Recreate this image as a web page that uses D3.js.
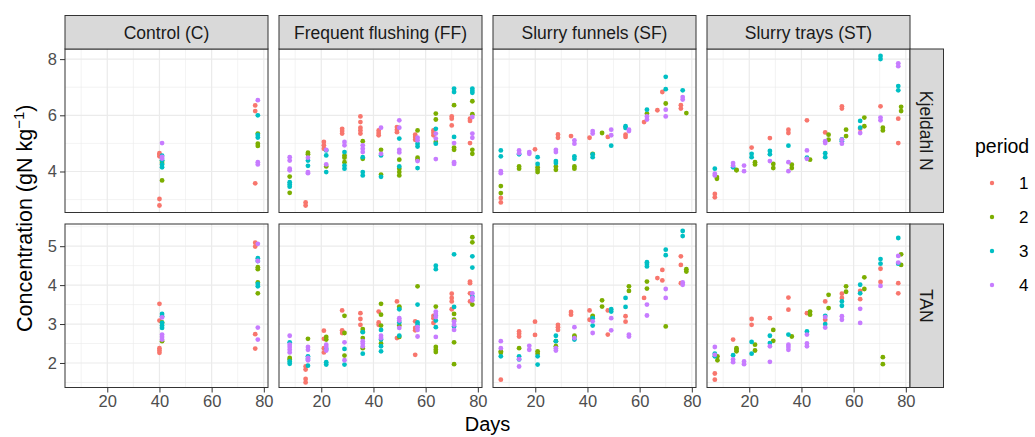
<!DOCTYPE html>
<html>
<head>
<meta charset="utf-8">
<script src="https://cdn.jsdelivr.net/npm/d3@7"></script>
<style>
  body { margin: 0; background: #fff; }
  text { font-family: "Liberation Sans", Arial, sans-serif; }
</style>
</head>
<body>
<div id="chart"></div>
<script>
// facet grid: treatments across, N fractions down, points coloured by period

var treatments = ["Control (C)", "Frequent flushing (FF)", "Slurry funnels (SF)", "Slurry trays (ST)"];
var measures = ["Kjeldahl N", "TAN"];
var periods = ["1", "2", "3", "4"];
var periodColors = ["#F8766D", "#7CAE00", "#00BFC4", "#C77CFF"];

var xTicks = [20, 40, 60, 80];
var xMinor = [10, 30, 50, 70];
var xDomain = [3.8, 81.6];
var kjeldahlTicks = [4, 6, 8];
var kjeldahlMinor = [3, 5, 7];
var kjeldahlDomain = [2.54, 8.36];
var tanTicks = [2, 3, 4, 5];
var tanMinor = [1.5, 2.5, 3.5, 4.5, 5.5];
var tanDomain = [1.37, 5.57];

// each row: [day, period, values...]
var controlKjeldahl = [
  [40, 1, 4.65, 4.60, 4.54, 3.02, 2.79],
  [41, 2, 4.37, 4.30, 3.68],
  [41, 3, 4.56, 4.40, 4.25, 4.15],
  [41, 4, 5.01, 4.52, 4.46],
  [76.7, 1, 6.35, 6.15, 3.58],
  [77.7, 2, 5.35, 4.99, 4.91],
  [77.7, 3, 6.00, 5.30, 5.21],
  [77.7, 4, 6.54, 4.33, 4.25]
];
var controlTAN = [
  [40, 1, 3.52, 3.09, 2.38, 2.32, 2.26],
  [41, 2, 3.04, 2.56],
  [41, 3, 3.26, 3.20, 3.03, 2.96, 2.90],
  [41, 4, 3.17, 2.73, 2.67, 2.60],
  [76.7, 1, 5.09, 4.99, 2.74, 2.37],
  [77.7, 2, 4.46, 4.41, 4.07, 3.79],
  [77.7, 3, 4.69, 4.62, 4.03, 3.97],
  [77.7, 4, 5.06, 4.62, 2.91, 2.60]
];
var ffKjeldahl = [
  [7.9, 4, 4.51, 4.39, 4.10, 4.04], [7.9, 2, 3.82, 3.24], [7.9, 3, 3.62, 3.54, 3.46],
  [14, 1, 2.90, 2.79], [14.9, 2, 4.67, 4.61], [14.9, 4, 4.49, 3.98, 3.94], [14.9, 3, 4.39, 4.20],
  [21, 1, 5.05, 4.93, 4.81], [21.9, 3, 4.75, 4.57, 3.98], [21.9, 4, 4.77, 4.25], [21.9, 2, 4.18],
  [28, 1, 5.52, 5.44, 5.35], [28.9, 4, 5.05, 4.93], [28.9, 3, 4.69, 4.21, 4.10], [28.9, 2, 4.57, 4.49, 4.33],
  [35, 1, 5.96, 5.76, 5.56, 5.46, 5.35], [35.9, 2, 5.08, 4.45], [35.9, 4, 4.93, 4.81, 4.69], [35.9, 3, 4.51, 3.98, 3.86],
  [42, 1, 5.46, 5.37, 5.29], [42.9, 4, 5.56, 4.63], [42.9, 2, 4.77, 3.89], [42.9, 3, 4.57, 3.81],
  [49, 1, 5.58, 5.49, 5.40], [49.9, 4, 5.82, 5.56, 4.77, 4.68], [49.9, 3, 5.17, 4.18], [49.9, 2, 4.42, 4.10, 3.98, 3.86],
  [56, 1, 5.31, 5.23, 5.13], [56.9, 2, 5.46, 4.49, 4.42], [56.9, 4, 5.20, 5.11, 4.37], [56.9, 3, 4.99, 4.89, 4.12],
  [63, 1, 5.46, 5.38, 5.29], [63.9, 2, 6.06, 5.85, 5.05], [63.9, 3, 5.52, 4.99], [63.9, 4, 5.35, 5.17, 4.44],
  [70, 1, 5.96, 5.88, 5.64], [70.9, 3, 6.95, 6.83, 5.23], [70.9, 2, 6.36, 4.85, 4.77], [70.9, 4, 5.01, 4.33, 4.27],
  [77, 1, 5.88, 5.80, 5.01], [77.9, 3, 6.95, 6.87, 6.80], [77.9, 2, 6.50, 6.04, 4.77, 4.63], [77.9, 4, 5.94, 5.35, 5.20]
];
var ffTAN = [
  [7.9, 4, 2.70, 2.47, 2.41, 2.34, 2.27], [7.9, 3, 2.53, 2.04, 1.98], [7.9, 2, 2.13, 2.09],
  [14, 1, 1.91, 1.83, 1.59, 1.50], [14.9, 2, 2.62], [14.9, 4, 2.41, 2.34, 2.13, 2.07], [14.9, 3, 2.17, 2.10, 1.93],
  [21, 1, 2.83, 2.62, 2.38, 2.27], [21.9, 2, 2.67, 2.60], [21.9, 4, 2.47, 2.41, 2.32], [21.9, 3, 2.36, 2.02, 1.96],
  [28, 1, 3.35, 2.84, 2.77], [28.9, 2, 3.21, 2.77, 2.19], [28.9, 4, 2.53, 2.07], [28.9, 3, 2.36, 1.96],
  [35, 1, 3.28, 3.13, 2.98], [35.9, 2, 2.87, 2.81, 2.64, 2.38], [35.9, 4, 2.56, 2.50, 2.43], [35.9, 3, 2.79, 2.24],
  [42, 1, 3.32, 3.04, 2.98], [42.9, 2, 3.52, 3.24, 2.96, 2.50], [42.9, 4, 2.70, 2.64], [42.9, 3, 2.85, 2.60, 2.43, 2.30],
  [49, 1, 3.58, 2.64], [49.9, 3, 3.38, 3.04, 2.70], [49.9, 4, 3.15, 3.09, 2.90], [49.9, 2, 3.45, 3.41, 2.96, 2.67],
  [56, 1, 3.07, 2.90, 2.84, 2.21], [56.9, 2, 3.97], [56.9, 3, 3.50, 3.04, 2.98], [56.9, 4, 2.92, 2.85, 2.68],
  [63, 1, 3.21, 3.15, 3.03], [63.9, 3, 4.50, 4.41, 3.21, 3.09, 2.92], [63.9, 2, 3.45, 2.41, 2.34, 2.28], [63.9, 4, 3.32, 3.26, 3.18, 2.67],
  [70, 1, 3.78, 3.67, 3.58, 3.38], [70.9, 3, 4.79, 3.44, 2.94], [70.9, 2, 3.26, 3.11, 2.53, 1.97], [70.9, 4, 3.07, 2.98, 2.85],
  [77, 1, 4.09, 4.05, 3.79, 3.58], [77.9, 2, 5.23, 5.10, 3.50], [77.9, 3, 4.74, 4.45, 3.71], [77.9, 4, 3.79, 3.67, 3.61]
];
var sfKjeldahl = [
  [6.8, 3, 4.75, 4.54], [6.8, 4, 4.01, 3.94], [6.8, 2, 3.48, 3.23], [6.8, 1, 3.06, 2.90],
  [13.8, 4, 4.75, 4.65], [13.8, 3, 4.61], [13.8, 2, 4.18, 4.10],
  [17.7, 4, 4.69, 4.63],
  [19.9, 1, 4.79], [20.9, 3, 4.51, 4.27], [20.9, 2, 4.15, 4.06, 3.98],
  [27.9, 4, 4.77, 4.69], [27.9, 3, 4.37, 4.30], [27.9, 2, 4.18, 4.06], [28.7, 1, 5.32, 5.20],
  [33.7, 1, 5.26], [35, 4, 5.11, 4.99], [35, 3, 4.54, 4.45], [35, 2, 4.18, 4.10],
  [40.8, 1, 5.20], [42, 4, 5.44, 5.35], [42, 3, 4.61, 4.51], [42, 2, 4.63],
  [45.6, 2, 5.37],
  [47.8, 1, 5.23], [49.1, 4, 5.49, 5.29], [49.1, 3, 4.92],
  [54.6, 1, 5.31, 5.23], [54.6, 3, 5.61, 5.55], [55.9, 4, 5.49, 5.44],
  [61.7, 1, 5.76], [62.8, 3, 6.20], [62.8, 2, 6.06], [62.8, 4, 5.96, 5.85],
  [66.8, 1, 6.18],
  [68.7, 1, 6.83], [70, 3, 7.37, 6.93], [70, 2, 6.42], [70, 4, 6.20, 5.96],
  [75.8, 1, 6.36, 6.24], [76.5, 3, 6.89], [76.5, 4, 6.65, 6.56], [77.9, 2, 6.08]
];
var sfTAN = [
  [6.8, 4, 2.56, 2.38], [6.8, 2, 2.30, 2.26], [6.8, 3, 2.17], [6.8, 1, 1.57],
  [13.8, 1, 2.81, 2.75, 2.68], [13.8, 2, 2.38], [13.8, 3, 2.17, 2.09], [13.8, 4, 2.10, 1.91],
  [17.7, 4, 2.44, 2.34],
  [19.9, 1, 3.06, 2.72], [20.9, 2, 2.30, 2.24], [20.9, 3, 2.17, 1.96],
  [27.9, 3, 2.70, 2.56], [27.9, 2, 2.56, 2.43], [27.9, 4, 2.38, 2.32], [28.7, 1, 2.98, 2.92, 2.85],
  [33.7, 1, 3.31, 3.24], [35, 4, 2.92, 2.64], [35, 2, 2.70, 2.67], [35, 3, 2.60],
  [40.8, 1, 3.35, 3.11], [42, 2, 3.21, 3.18], [42, 3, 3.15, 2.96], [42, 4, 3.07, 2.77],
  [45.6, 2, 3.61, 3.45],
  [47.8, 1, 3.35, 2.73], [49.1, 3, 3.38, 3.32], [49.1, 4, 3.15, 2.84],
  [54.6, 3, 3.67, 3.44], [54.6, 1, 3.20, 3.06], [55.9, 2, 3.97, 3.85], [55.9, 4, 2.73, 2.68],
  [61.7, 1, 3.67], [62.8, 3, 4.59, 4.54, 4.48], [62.8, 2, 4.09, 3.91], [62.8, 4, 3.50, 3.22],
  [66.8, 1, 4.18],
  [68.7, 1, 4.39, 4.12], [70, 3, 4.91, 4.77], [70, 4, 3.90, 3.67], [70, 2, 2.94],
  [75.8, 1, 4.74, 4.52, 4.05], [76.5, 3, 5.39, 5.26], [76.5, 4, 4.07, 4.01], [77.9, 2, 4.41, 4.35]
];
var stKjeldahl = [
  [6.8, 3, 4.10], [6.8, 4, 3.92, 3.86], [6.8, 1, 3.20, 3.08], [7.6, 2, 3.80, 3.74],
  [13.8, 4, 4.30, 4.21], [13.8, 3, 4.15], [15.1, 2, 4.06, 4.04],
  [18, 4, 4.21, 4.01],
  [20.9, 1, 4.85], [20.9, 3, 4.63, 4.51], [22.2, 2, 4.33, 4.25],
  [27.9, 1, 5.19], [27.9, 3, 4.73, 4.61], [27.9, 4, 4.37], [29.2, 2, 4.27, 4.12],
  [35, 1, 5.49, 5.37], [35, 3, 4.92], [35, 4, 4.33, 4.01], [36.3, 2, 4.24, 4.12],
  [42.1, 1, 5.82], [42.1, 4, 4.75, 4.45], [42.1, 3, 4.49], [43.3, 2, 4.42],
  [49.1, 1, 5.39], [49.1, 4, 5.08, 5.01], [49.1, 3, 4.65, 4.51], [50.4, 2, 5.31, 5.13],
  [55.5, 1, 6.32, 6.24], [55.5, 3, 5.14, 5.08], [55.5, 4, 5.13, 4.99], [57.1, 2, 5.49, 5.26],
  [62.5, 1, 5.52], [62.5, 3, 5.80, 5.56], [62.5, 4, 5.37], [64.1, 2, 5.92, 5.61],
  [70.3, 3, 8.11, 8.00], [70.3, 1, 6.32], [70.3, 4, 5.92, 5.82], [71.2, 2, 5.56, 5.46],
  [77.1, 4, 7.85, 7.75], [77.1, 3, 7.04, 6.89], [77.1, 1, 5.88, 5.01], [78.2, 2, 6.30, 6.15]
];
var stTAN = [
  [6.8, 4, 2.41, 2.21], [6.8, 3, 2.24, 2.17], [6.8, 1, 1.73, 1.57], [7.8, 2, 2.17, 2.07],
  [13.8, 1, 2.60], [13.8, 3, 2.20], [13.8, 4, 2.09, 2.02], [15.1, 2, 2.38, 2.34, 2.30],
  [18, 4, 2.04, 1.97],
  [20.9, 1, 3.13, 2.98], [20.9, 3, 2.54, 2.24], [22.2, 2, 2.47, 2.32],
  [27.9, 1, 3.15], [27.9, 3, 2.70, 2.51], [27.9, 4, 2.43, 2.03], [29.2, 2, 2.85, 2.57],
  [35, 1, 3.68, 3.37], [35, 3, 2.73], [35, 4, 2.47, 2.41, 2.34], [36.3, 2, 2.68],
  [42.1, 1, 3.28], [42.1, 3, 2.81], [42.1, 4, 2.73, 2.50, 2.43], [43.3, 2, 3.32, 3.24],
  [49.1, 1, 3.58, 3.11], [49.1, 3, 3.21, 3.00], [49.1, 4, 3.18, 2.91], [50.4, 2, 3.75, 3.41],
  [55.5, 1, 3.78, 3.67], [55.5, 3, 3.58, 3.47], [55.5, 4, 3.20, 3.11], [57.1, 2, 3.97, 3.83],
  [62.5, 1, 3.85, 3.64], [62.5, 3, 4.01, 3.79], [62.5, 4, 3.39, 3.03], [64.1, 2, 4.20, 3.90],
  [70.3, 3, 4.67, 4.55], [70.3, 1, 4.42, 4.08], [70.3, 4, 3.98], [71.2, 2, 2.15, 1.97],
  [77.1, 3, 5.21, 4.55], [77.1, 4, 4.75, 4.58], [77.1, 1, 4.05, 3.79], [78.2, 2, 4.79, 4.52]
];

var panelData = [
  [controlKjeldahl, ffKjeldahl, sfKjeldahl, stKjeldahl],
  [controlTAN, ffTAN, sfTAN, stTAN]
];

function flatten(rows) {
  var out = [];
  rows.forEach(function(r) {
    for (var i = 2; i < r.length; i++) out.push({day: r[0], period: r[1], value: r[i]});
  });
  // draw period 1 first, like ggplot's data order
  out.sort(function(a, b) { return a.period - b.period; });
  return out;
}

var W = 1035, H = 437;
var panelLeft = 65, panelW = 203, gapX = 11;
var rowTop = [49, 224], panelH = 163.5;
var stripH = 33.5;
var tickCol = "#333333", tickText = "#4D4D4D";

var svg = d3.select("#chart").append("svg")
  .attr("width", W).attr("height", H);

var x = d3.scaleLinear().domain(xDomain);
var yScales = [
  d3.scaleLinear().domain(kjeldahlDomain).range([rowTop[0] + panelH, rowTop[0]]),
  d3.scaleLinear().domain(tanDomain).range([rowTop[1] + panelH, rowTop[1]])
];
var yTicks = [kjeldahlTicks, tanTicks];
var yMinor = [kjeldahlMinor, tanMinor];
var color = d3.scaleOrdinal().domain(d3.range(1, 5)).range(periodColors);

for (var r = 0; r < 2; r++) {
  for (var c = 0; c < 4; c++) {
    var x0 = panelLeft + c * (panelW + gapX);
    var y0 = rowTop[r];
    var xs = x.copy().range([x0, x0 + panelW]);
    var ys = yScales[r];
    var g = svg.append("g");

    g.append("rect").attr("x", x0).attr("y", y0)
      .attr("width", panelW).attr("height", panelH).attr("fill", "#fff");

    // minor grid
    g.selectAll(".vmin").data(xMinor).enter().append("line")
      .attr("x1", function(d) { return xs(d); }).attr("x2", function(d) { return xs(d); })
      .attr("y1", y0).attr("y2", y0 + panelH)
      .attr("stroke", "#EBEBEB").attr("stroke-width", 0.6);
    g.selectAll(".hmin").data(yMinor[r].filter(function(d) { return d > ys.domain()[0] && d < ys.domain()[1]; }))
      .enter().append("line")
      .attr("x1", x0).attr("x2", x0 + panelW)
      .attr("y1", function(d) { return ys(d); }).attr("y2", function(d) { return ys(d); })
      .attr("stroke", "#EBEBEB").attr("stroke-width", 0.6);
    // major grid
    g.selectAll(".vmaj").data(xTicks).enter().append("line")
      .attr("x1", function(d) { return xs(d); }).attr("x2", function(d) { return xs(d); })
      .attr("y1", y0).attr("y2", y0 + panelH)
      .attr("stroke", "#EBEBEB").attr("stroke-width", 1.2);
    g.selectAll(".hmaj").data(yTicks[r]).enter().append("line")
      .attr("x1", x0).attr("x2", x0 + panelW)
      .attr("y1", function(d) { return ys(d); }).attr("y2", function(d) { return ys(d); })
      .attr("stroke", "#EBEBEB").attr("stroke-width", 1.2);

    // points
    g.selectAll("circle").data(flatten(panelData[r][c])).enter().append("circle")
      .attr("cx", function(d) { return xs(d.day); })
      .attr("cy", function(d) { return ys(d.value); })
      .attr("r", 2.4)
      .attr("fill", function(d) { return color(d.period); });

    g.append("rect").attr("x", x0).attr("y", y0)
      .attr("width", panelW).attr("height", panelH)
      .attr("fill", "none").attr("stroke", tickCol).attr("stroke-width", 1);

    // left axis
    if (c == 0) {
      var ya = svg.append("g").attr("transform", "translate(" + x0 + ",0)")
        .call(d3.axisLeft(ys).tickValues(yTicks[r]).tickSize(5).tickPadding(3).tickFormat(d3.format("d")));
      ya.select(".domain").remove();
      ya.selectAll("line").attr("stroke", tickCol);
      ya.selectAll("text").attr("fill", tickText).style("font-size", "16.5px")
        .style("font-family", "'Liberation Sans', Arial, sans-serif");
    }
    // bottom axis
    if (r == 1) {
      var xa = svg.append("g").attr("transform", "translate(0," + (y0 + panelH) + ")")
        .call(d3.axisBottom(xs).tickValues(xTicks).tickSize(5).tickPadding(3));
      xa.select(".domain").remove();
      xa.selectAll("line").attr("stroke", tickCol);
      xa.selectAll("text").attr("fill", tickText).style("font-size", "16.5px")
        .style("font-family", "'Liberation Sans', Arial, sans-serif");
    }
    // top strips
    if (r == 0) {
      svg.append("rect").attr("x", x0).attr("y", y0 - stripH)
        .attr("width", panelW).attr("height", stripH)
        .attr("fill", "#D9D9D9").attr("stroke", tickCol).attr("stroke-width", 1);
      svg.append("text").attr("x", x0 + panelW / 2).attr("y", y0 - stripH / 2)
        .attr("dy", "0.36em").attr("text-anchor", "middle")
        .attr("fill", "#1A1A1A").style("font-size", "17.5px")
        .text(treatments[c]);
    }
  }
  // right strips
  var sx = panelLeft + 4 * panelW + 3 * gapX;
  svg.append("rect").attr("x", sx).attr("y", rowTop[r])
    .attr("width", stripH).attr("height", panelH)
    .attr("fill", "#D9D9D9").attr("stroke", tickCol).attr("stroke-width", 1);
  svg.append("text")
    .attr("transform", "translate(" + (sx + stripH / 2) + "," + (rowTop[r] + panelH / 2) + ") rotate(90)")
    .attr("dy", "0.36em").attr("text-anchor", "middle")
    .attr("fill", "#1A1A1A").style("font-size", "17.5px")
    .text(measures[r]);
}

// axis titles
svg.append("text")
  .attr("x", panelLeft + (4 * panelW + 3 * gapX) / 2).attr("y", 431)
  .attr("text-anchor", "middle").attr("fill", "#000").style("font-size", "20px")
  .text("Days");

var yt = svg.append("text")
  .attr("transform", "translate(32," + ((rowTop[0] + rowTop[1] + panelH) / 2) + ") rotate(-90)")
  .attr("text-anchor", "middle").attr("fill", "#000").style("font-size", "21.5px");
yt.append("tspan").text("Concentration (gN kg");
yt.append("tspan").attr("dy", "-0.55em").style("font-size", "15px").text("\u22121");
yt.append("tspan").attr("dy", "0.4em").text(")");

// legend
var lg = svg.append("g");
lg.append("text").attr("x", 975).attr("y", 153).attr("fill", "#000")
  .style("font-size", "19.5px").text("period");
periods.forEach(function(p, i) {
  lg.append("circle").attr("cx", 992).attr("cy", 183 + i * 34)
    .attr("r", 2.2).attr("fill", periodColors[i]);
  lg.append("text").attr("x", 1019).attr("y", 183 + i * 34).attr("dy", "0.36em")
    .attr("fill", "#000").style("font-size", "17px").text(p);
});
</script>
</body>
</html>
